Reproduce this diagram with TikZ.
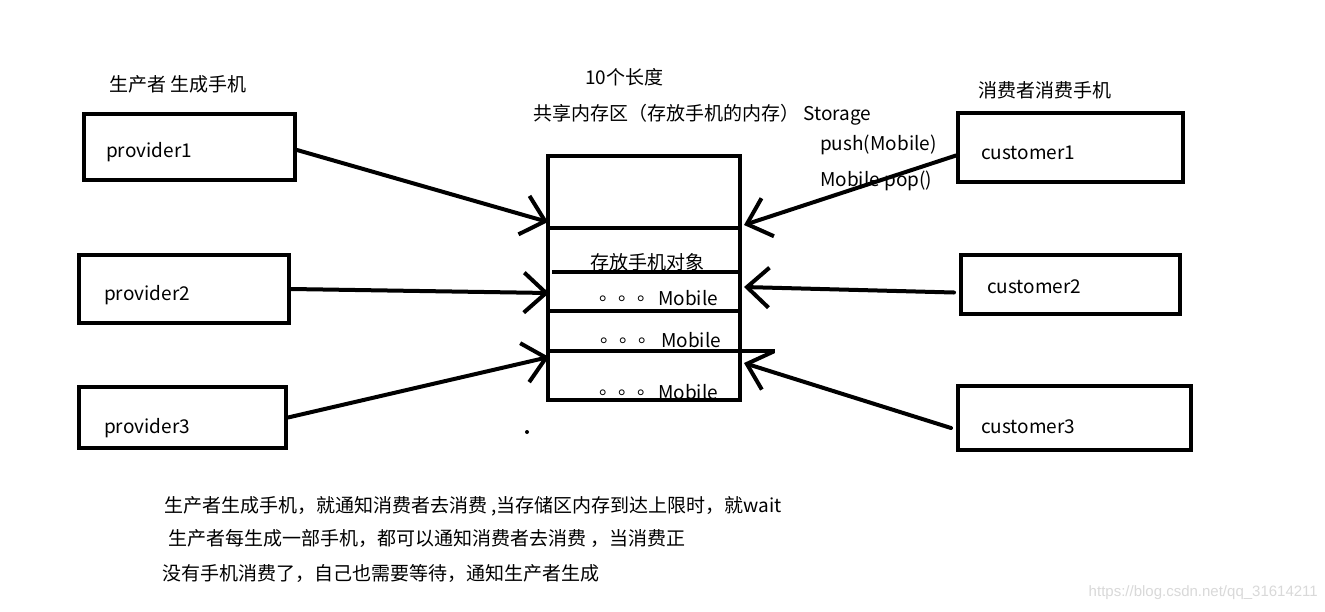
\documentclass[tikz,border=0pt]{standalone}
\usepackage{fontspec}
\setmainfont{Noto Sans CJK SC}
\newfontfamily\wmfont{Liberation Sans}
\usetikzlibrary{arrows.meta}
\begin{document}
\begin{tikzpicture}[x=1pt,y=-1pt,
  box/.style={draw=black,line width=4pt,minimum width=#1,inner sep=0pt},
  txt/.style={inner sep=0pt,font=\fontsize{19}{21}\selectfont},
  arr/.style={line width=4pt,line cap=round,-{Straight Barb[length=22pt,width=40pt,line width=4pt]}},
  divider/.style={line width=4pt}
]
\useasboundingbox[fill=white] (0,0) rectangle (1325,611);
% boxes
\node[box=211pt,minimum height=66pt] (p1) at (189.5,147) {};
\node[box=210pt,minimum height=68pt] (p2) at (184,289) {};
\node[box=207pt,minimum height=61pt] (p3) at (182.5,417.5) {};
\node[box=225pt,minimum height=69pt] (c1) at (1070.5,147.5) {};
\node[box=219pt,minimum height=59pt] (c2) at (1070.5,284.5) {};
\node[box=233pt,minimum height=64pt] (c3) at (1074.5,418) {};
\node[box=192pt,minimum height=244pt] (st) at (644,278) {};
% dividers
\draw[divider] (548,228) -- (740,228);
\draw[divider] (552,272) -- (740,272);
\draw[divider] (548,311) -- (740,311);
\draw[divider] (550,351) -- (775,351);
% texts
\node[txt,anchor=west] (tp1) at (106,152) {provider1};
\node[txt,anchor=west] (tp2) at (104,295) {provider2};
\node[txt,anchor=west] (tp3) at (104,428) {provider3};
\node[txt,anchor=west] (tc1) at (981,153) {customer1};
\node[txt,anchor=west] (tc2) at (987,287) {customer2};
\node[txt,anchor=west] (tc3) at (981,427) {customer3};
\node[txt,anchor=west] (hp) at (109,84) {生产者 生成手机};
\node[txt,anchor=west] (hc) at (978,90) {消费者消费手机};
\node[txt,anchor=west] (len) at (585,77) {10个长度};
\node[txt,anchor=west] (share) at (533,115) {共享内存区（存放手机的内存） Storage};
\node[txt,anchor=west] (push) at (820,145) {push(Mobile)};
\node[txt,anchor=west] (pop) at (820,181) {Mobile pop()};
\node[txt,anchor=west] (obj) at (590,262) {存放手机对象};
\node[txt,anchor=west] (m1) at (599,298) {\raisebox{5pt}{。。。}\kern2pt Mobile};
\node[txt,anchor=west] (m2) at (600,340) {\raisebox{5pt}{。。。}\kern4pt Mobile};
\node[txt,anchor=west] (m3) at (599,392) {\raisebox{5pt}{。。。}\kern2pt Mobile};
\fill (527,432) circle (2pt);
\node[txt,anchor=west] (b1) at (164,506) {生产者生成手机，就通知消费者去消费\ ,当存储区内存到达上限时，就wait};
\node[txt,anchor=west] (b2) at (168,538) {生产者每生成一部手机，都可以通知消费者去消费 ，当消费正};
\node[txt,anchor=west] (b3) at (162,573) {没有手机消费了，自己也需要等待，通知生产者生成};
\node[inner sep=0pt,anchor=east,text=black!15,font=\wmfont\fontsize{15}{17}\selectfont] (wm) at (1318,593) {https://blog.csdn.net/qq\_31614211};
% arrows
\coordinate (sl1) at (548,222);
\coordinate (sl2) at (549,293);
\coordinate (sl3) at (549,357);
\coordinate (sr1) at (744,225);
\coordinate (sr2) at (744,287);
\coordinate (sr3) at (744,363);
\draw[arr] ([yshift=-3pt]p1.east) -- (sl1);
\draw[arr] (p2.east) -- (sl2);
\draw[arr] (p3.east) -- (sl3);
\draw[arr] ([yshift=-8pt]c1.west) -- (sr1);
\draw[arr] ([xshift=-5pt,yshift=-8pt]c2.west) -- (sr2);
\draw[arr] ([xshift=-5pt,yshift=-10pt]c3.west) -- (sr3);
\end{tikzpicture}
\end{document}
